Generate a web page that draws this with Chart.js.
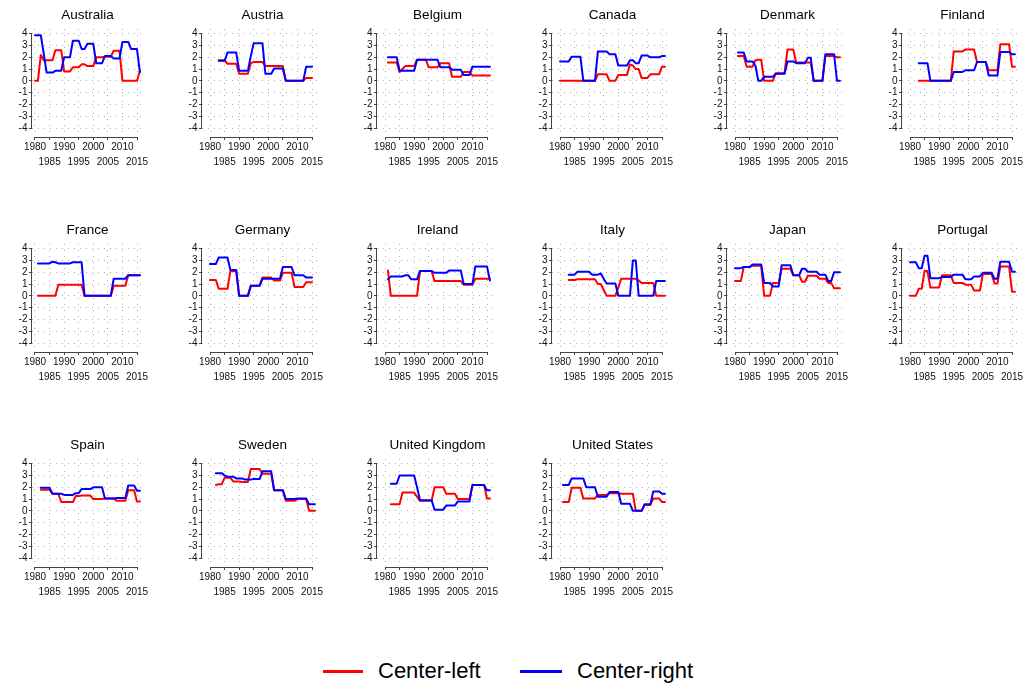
<!DOCTYPE html>
<html>
<head>
<meta charset="utf-8">
<title>Center-left and center-right positions by country</title>
<script src="https://cdn.jsdelivr.net/npm/chart.js@4.4.1/dist/chart.umd.min.js"></script>
<style>
  html, body { margin: 0; padding: 0; background: #ffffff; }
  #wrap { position: relative; width: 1025px; height: 687px; overflow: hidden; background: #ffffff; }
  #wrap canvas { position: absolute; }
  .legend-line { position: absolute; height: 2.5px; }
  .legend-text { position: absolute; font-family: "Liberation Sans", Arial, Helvetica, sans-serif;
                 font-size: 22px; line-height: 26px; color: #000; white-space: nowrap; }
</style>
</head>
<body>
<div id="wrap"></div>
<script>
// ---- data -------------------------------------------------------------
const years = [1980, 1981, 1982, 1983, 1984, 1985, 1986, 1987, 1988, 1989,
               1990, 1991, 1992, 1993, 1994, 1995, 1996, 1997, 1998, 1999,
               2000, 2001, 2002, 2003, 2004, 2005, 2006, 2007, 2008, 2009,
               2010, 2011, 2012, 2013, 2014, 2015, 2016];
const xTickValues = [1980, 1985, 1990, 1995, 2000, 2005, 2010, 2015];
const yTickValues = [-4, -3, -2, -1, 0, 1, 2, 3, 4];
const seriesLabels = ['Center-left', 'Center-right'];
const countries = ['Australia', 'Austria', 'Belgium', 'Canada', 'Denmark', 'Finland',
                   'France', 'Germany', 'Ireland', 'Italy', 'Japan', 'Portugal',
                   'Spain', 'Sweden', 'United Kingdom', 'United States'];

const australiaLeft  = [0, 0, 2.2, 1.75, 1.75, 1.75, 1.75, 2.6, 2.6, 2.6, 0.8, 0.8, 0.8, 1.15, 1.15, 1.15, 1.4, 1.4, 1.25, 1.25, 1.25, 2.0, 2.0, 2.0, 2.05, 2.05, 2.05, 2.55, 2.55, 2.55, 0, 0, 0, 0, 0, 0, 0.85];
const australiaRight = [3.87, 3.87, 3.87, 2.3, 0.7, 0.7, 0.7, 0.85, 0.85, 0.85, 2.0, 2.0, 2.0, 3.4, 3.4, 3.4, 2.7, 2.7, 3.15, 3.15, 3.15, 1.5, 1.5, 1.5, 2.1, 2.1, 2.1, 1.9, 1.9, 1.9, 3.3, 3.3, 3.3, 2.7, 2.7, 2.7, 0.75];

const austriaLeft  = [null, null, null, 1.75, 1.75, 1.75, 1.45, 1.45, 1.45, 1.45, 0.6, 0.6, 0.6, 0.6, 1.5, 1.6, 1.6, 1.6, 1.6, 1.25, 1.25, 1.25, 1.25, 1.25, 1.25, 1.25, 0, 0, 0, 0, 0, 0, 0, 0.25, 0.25, 0.25, null];
const austriaRight = [null, null, null, 1.7, 1.7, 1.7, 2.4, 2.4, 2.4, 2.4, 0.85, 0.85, 0.85, 0.85, 2.1, 3.2, 3.2, 3.2, 3.2, 0.6, 0.6, 0.6, 1.05, 1.05, 1.05, 1.05, 0, 0, 0, 0, 0, 0, 0, 1.2, 1.2, 1.2, null];

const belgiumLeft  = [null, 1.55, 1.55, 1.55, 1.55, 0.75, 1.0, 1.25, 1.25, 1.25, 1.25, 1.8, 1.8, 1.8, 1.8, 1.15, 1.15, 1.15, 1.15, 1.5, 1.5, 1.5, 1.5, 0.35, 0.35, 0.35, 0.35, 0.75, 0.75, 0.75, 0.45, 0.45, 0.45, 0.45, 0.45, 0.45, 0.45];
const belgiumRight = [null, 2.0, 2.0, 2.0, 2.0, 0.85, 0.85, 0.85, 0.85, 0.85, 0.85, 1.8, 1.8, 1.8, 1.8, 1.8, 1.8, 1.8, 1.8, 1.15, 1.15, 1.15, 1.15, 0.95, 0.95, 0.95, 0.95, 0.5, 0.5, 0.5, 1.2, 1.2, 1.2, 1.2, 1.2, 1.2, 1.2];

const canadaLeft  = [0, 0, 0, 0, 0, 0, 0, 0, 0, 0, 0, 0, 0, 0.55, 0.55, 0.55, 0.55, 0, 0, 0, 0.5, 0.5, 0.5, 0.5, 1.4, 1.3, 1.0, 1.0, 0.25, 0.25, 0.25, 0.55, 0.55, 0.55, 0.55, 1.2, 1.2];
const canadaRight = [1.65, 1.65, 1.65, 1.65, 2.05, 2.05, 2.05, 2.05, 0, 0, 0, 0, 0, 2.5, 2.5, 2.5, 2.5, 2.25, 2.25, 2.25, 1.3, 1.3, 1.3, 1.3, 1.75, 1.75, 1.5, 1.5, 2.15, 2.15, 2.15, 2.0, 2.0, 2.0, 2.0, 2.1, 2.1];

const denmarkLeft  = [null, 2.1, 2.1, 2.1, 1.2, 1.2, 1.2, 1.75, 1.8, 1.8, 0, 0, 0, 0, 0.65, 0.65, 0.65, 0.65, 2.65, 2.65, 2.65, 1.55, 1.55, 1.55, 1.55, 1.55, 1.55, 0, 0, 0, 0, 2.1, 2.1, 2.1, 2.1, 2.0, 2.0];
const denmarkRight = [null, 2.4, 2.4, 2.4, 1.65, 1.65, 1.65, 1.3, 0, 0, 0.35, 0.35, 0.35, 0.35, 0.6, 0.6, 0.6, 0.6, 1.65, 1.65, 1.65, 1.5, 1.5, 1.5, 1.5, 1.95, 1.95, 0, 0, 0, 0, 2.25, 2.25, 2.25, 2.25, 0, 0];

const finlandLeft  = [null, null, null, 0, 0, 0, 0, 0, 0, 0, 0, 0, 0, 0, 0, 2.5, 2.5, 2.5, 2.5, 2.65, 2.65, 2.65, 2.65, 1.6, 1.6, 1.6, 1.6, 0.9, 0.9, 0.9, 0.9, 3.1, 3.1, 3.1, 3.1, 1.2, 1.2];
const finlandRight = [null, null, null, 1.5, 1.5, 1.5, 1.5, 0, 0, 0, 0, 0, 0, 0, 0, 0.75, 0.75, 0.75, 0.75, 0.9, 0.9, 0.9, 0.9, 1.6, 1.6, 1.6, 1.6, 0.45, 0.45, 0.45, 0.45, 2.45, 2.45, 2.45, 2.45, 2.25, 2.25];

const franceLeft  = [null, 0, 0, 0, 0, 0, 0, 0, 0.95, 0.95, 0.95, 0.95, 0.95, 0.95, 0.95, 0.95, 0.95, 0, 0, 0, 0, 0, 0, 0, 0, 0, 0, 0.85, 0.85, 0.85, 0.85, 0.85, 1.75, 1.75, 1.75, 1.75, 1.75];
const franceRight = [null, 2.75, 2.75, 2.75, 2.75, 2.75, 2.9, 2.85, 2.75, 2.75, 2.75, 2.75, 2.75, 2.85, 2.85, 2.85, 2.85, 0, 0, 0, 0, 0, 0, 0, 0, 0, 0, 1.45, 1.45, 1.45, 1.45, 1.45, 1.75, 1.75, 1.75, 1.75, 1.75];

const germanyLeft  = [1.35, 1.35, 1.35, 0.6, 0.6, 0.6, 0.6, 2.1, 2.1, 2.1, 0, 0, 0, 0, 0.85, 0.85, 0.85, 0.85, 1.55, 1.55, 1.55, 1.55, 1.3, 1.3, 1.3, 1.95, 1.95, 1.95, 1.95, 0.75, 0.75, 0.75, 0.75, 1.15, 1.15, 1.15, null];
const germanyRight = [2.7, 2.7, 2.7, 3.25, 3.25, 3.25, 3.25, 2.2, 2.2, 2.2, 0, 0, 0, 0, 0.85, 0.85, 0.85, 0.85, 1.45, 1.45, 1.45, 1.45, 1.45, 1.45, 1.45, 2.45, 2.45, 2.45, 2.45, 1.75, 1.75, 1.75, 1.75, 1.55, 1.55, 1.55, null];

const irelandLeft  = [null, 2.15, 0, 0, 0, 0, 0, 0, 0, 0, 0, 0, 2.1, 2.1, 2.1, 2.1, 2.1, 1.25, 1.25, 1.25, 1.25, 1.25, 1.25, 1.25, 1.25, 1.25, 1.25, 0.95, 0.95, 0.95, 0.95, 1.45, 1.45, 1.45, 1.45, 1.45, 1.45];
const irelandRight = [null, 1.4, 1.65, 1.65, 1.65, 1.65, 1.65, 1.75, 1.75, 1.4, 1.4, 1.4, 2.1, 2.1, 2.1, 2.1, 2.1, 1.95, 1.95, 1.95, 1.95, 1.95, 2.15, 2.15, 2.15, 2.15, 2.15, 1.0, 1.0, 1.0, 1.0, 2.5, 2.5, 2.5, 2.5, 2.5, 1.3];

const italyLeft  = [null, null, null, 1.35, 1.35, 1.35, 1.4, 1.4, 1.4, 1.4, 1.4, 1.4, 1.4, 1.0, 1.0, 0.5, 0, 0, 0, 0, 0.7, 1.45, 1.45, 1.45, 1.45, 1.45, 1.45, 1.3, 1.1, 1.1, 1.1, 1.1, 1.1, 0, 0, 0, 0];
const italyRight = [null, null, null, 1.8, 1.8, 1.8, 2.05, 2.05, 2.05, 2.05, 2.05, 1.8, 1.8, 1.8, 1.9, 1.45, 1.05, 1.05, 1.05, 1.05, 0, 0, 0, 0, 0, 3.0, 3.0, 0, 0, 0, 0, 0, 0, 1.25, 1.25, 1.25, 1.25];

const japanLeft  = [1.25, 1.25, 1.25, 2.45, 2.45, 2.45, 2.55, 2.55, 2.55, 2.55, 0, 0, 0, 1.1, 1.1, 1.1, 2.3, 2.3, 2.3, 2.3, 1.75, 1.75, 1.75, 1.2, 1.2, 1.7, 1.7, 1.7, 1.7, 1.45, 1.45, 1.45, 1.1, 1.1, 0.65, 0.65, 0.65];
const japanRight = [2.35, 2.35, 2.35, 2.45, 2.45, 2.45, 2.65, 2.65, 2.65, 2.65, 1.1, 1.1, 1.1, 0.8, 0.8, 0.8, 2.6, 2.6, 2.6, 2.6, 1.75, 1.75, 1.75, 2.3, 2.3, 2.05, 2.05, 2.05, 2.05, 1.8, 1.8, 1.8, 1.25, 1.25, 2.0, 2.0, 2.0];

const portugalLeft  = [0, 0, 0, 0.6, 0.6, 2.1, 2.1, 0.7, 0.7, 0.7, 0.7, 1.75, 1.75, 1.75, 1.75, 1.1, 1.1, 1.1, 1.1, 0.95, 0.95, 0.95, 0.45, 0.45, 0.45, 1.85, 1.85, 1.85, 1.85, 1.05, 1.05, 2.5, 2.5, 2.5, 2.5, 0.35, 0.35];
const portugalRight = [2.85, 2.85, 2.85, 2.35, 2.35, 3.4, 3.4, 1.5, 1.5, 1.5, 1.5, 1.6, 1.6, 1.6, 1.6, 1.8, 1.8, 1.8, 1.8, 1.4, 1.4, 1.4, 1.65, 1.65, 1.65, 1.95, 1.95, 1.95, 1.95, 1.45, 1.45, 2.9, 2.9, 2.9, 2.9, 2.05, 2.05];

const spainLeft  = [null, null, 1.8, 1.8, 1.8, 1.8, 1.45, 1.45, 1.45, 0.75, 0.75, 0.75, 0.75, 0.75, 1.25, 1.25, 1.3, 1.3, 1.3, 1.3, 1.0, 1.0, 1.0, 1.0, 1.05, 1.05, 1.05, 1.05, 0.85, 0.85, 0.85, 0.85, 1.75, 1.75, 1.75, 0.8, 0.8];
const spainRight = [null, null, 1.95, 1.95, 1.95, 1.95, 1.45, 1.45, 1.45, 1.45, 1.35, 1.35, 1.35, 1.35, 1.5, 1.5, 1.85, 1.85, 1.85, 1.85, 2.0, 2.0, 2.0, 2.0, 1.05, 1.05, 1.05, 1.05, 1.1, 1.1, 1.1, 1.1, 2.15, 2.15, 2.15, 1.7, 1.7];

const swedenLeft  = [null, null, 2.2, 2.25, 2.25, 2.8, 2.8, 2.8, 2.5, 2.5, 2.5, 2.45, 2.45, 2.45, 3.55, 3.55, 3.55, 3.55, 3.15, 3.15, 3.15, 3.15, 1.75, 1.75, 1.75, 1.75, 0.85, 0.85, 0.85, 0.85, 1.0, 1.0, 1.0, 1.0, 0, 0, 0];
const swedenRight = [null, null, 3.2, 3.2, 3.2, 3.0, 2.9, 2.9, 2.9, 2.75, 2.75, 2.75, 2.65, 2.65, 2.65, 2.7, 2.7, 2.7, 3.35, 3.35, 3.35, 3.35, 1.75, 1.75, 1.75, 1.75, 1.0, 1.0, 1.0, 1.0, 1.05, 1.05, 1.05, 1.05, 0.55, 0.55, 0.55];

const ukLeft  = [null, null, 0.55, 0.55, 0.55, 0.55, 1.55, 1.55, 1.55, 1.55, 1.55, 1.2, 0.85, 0.85, 0.85, 0.85, 0.85, 2.0, 2.0, 2.0, 2.0, 1.45, 1.45, 1.45, 1.45, 1.0, 1.0, 1.0, 1.0, 1.0, 2.2, 2.2, 2.2, 2.2, 2.2, 1.05, 1.05];
const ukRight = [null, null, 2.3, 2.3, 2.3, 3.0, 3.0, 3.0, 3.0, 3.0, 3.0, 2.0, 0.9, 0.9, 0.9, 0.9, 0.9, 0.1, 0.1, 0.1, 0.1, 0.45, 0.45, 0.45, 0.45, 0.8, 0.8, 0.8, 0.8, 0.8, 2.2, 2.2, 2.2, 2.2, 2.2, 1.75, 1.75];

const usLeft  = [null, 0.75, 0.75, 0.75, 1.95, 1.95, 1.95, 1.95, 1.05, 1.05, 1.05, 1.05, 1.05, 1.35, 1.35, 1.35, 1.35, 1.5, 1.5, 1.5, 1.5, 1.45, 1.45, 1.45, 1.45, 1.45, 0, 0, 0, 0.5, 0.5, 0.5, 1.05, 1.05, 1.05, 0.75, 0.75];
const usRight = [null, 2.2, 2.2, 2.2, 2.75, 2.75, 2.75, 2.75, 2.75, 2.0, 2.0, 2.0, 2.0, 1.2, 1.2, 1.2, 1.2, 1.6, 1.6, 1.6, 1.6, 0.6, 0.6, 0.6, 0.6, 0, 0, 0, 0, 0.55, 0.55, 0.55, 1.65, 1.65, 1.65, 1.45, 1.45];

const leftSeries  = [australiaLeft, austriaLeft, belgiumLeft, canadaLeft, denmarkLeft, finlandLeft,
                     franceLeft, germanyLeft, irelandLeft, italyLeft, japanLeft, portugalLeft,
                     spainLeft, swedenLeft, ukLeft, usLeft];
const rightSeries = [australiaRight, austriaRight, belgiumRight, canadaRight, denmarkRight, finlandRight,
                     franceRight, germanyRight, irelandRight, italyRight, japanRight, portugalRight,
                     spainRight, swedenRight, ukRight, usRight];

// ---- styling & layout ------------------------------------------------
const FONT = '"Liberation Sans", Arial, Helvetica, sans-serif';
const RED = '#ff0000';
const BLUE = '#0000ff';
const GRID_COLOR = '#b0b0b0';
const AXIS_COLOR = '#444444';
const TICK_FONT_SIZE = 10;

const COLS = 6;
const PANEL_W = 175;      // horizontal step between panels
const PANEL_H = 200;      // canvas height of one panel
const ROW_STEP = 215;     // vertical step between panel rows
const TICK_FIRST_PX = 35; // local x of the first year tick
const TICK_LAST_PX = 137; // local x of the last year tick
const PLOT_RIGHT = 143;   // local right edge of the plotting region
const PLOT_TOP = 29;      // local top of the plotting region
const PLOT_BOTTOM = 137;  // local bottom (x axis line)
const Y_TOP_TICK_PX = 33.7;
const Y_BOTTOM_TICK_PX = 128;

Chart.defaults.font.family = FONT;

// Axis lines that run only from the first to the last tick.
const rangeAxes = {
  id: 'rangeAxes',
  afterDraw(chart) {
    const { ctx, chartArea, scales } = chart;
    const x = scales.x, y = scales.y;
    const yb = Math.round(chartArea.bottom) + 0.5;
    const xl = Math.round(chartArea.left) - 0.5;
    ctx.save();
    ctx.strokeStyle = AXIS_COLOR;
    ctx.lineWidth = 1;
    ctx.beginPath();
    ctx.moveTo(x.getPixelForValue(xTickValues[0]), yb);
    ctx.lineTo(x.getPixelForValue(xTickValues[xTickValues.length - 1]), yb);
    ctx.moveTo(xl, y.getPixelForValue(yTickValues[yTickValues.length - 1]));
    ctx.lineTo(xl, y.getPixelForValue(yTickValues[0]));
    ctx.stroke();
    ctx.restore();
  }
};

const wrap = document.getElementById('wrap');
const pxPerYear = (TICK_LAST_PX - TICK_FIRST_PX) / (xTickValues[xTickValues.length - 1] - xTickValues[0]);
const pxPerUnit = (Y_BOTTOM_TICK_PX - Y_TOP_TICK_PX) /
                  (yTickValues[yTickValues.length - 1] - yTickValues[0]);
const yMax = yTickValues[yTickValues.length - 1] + (Y_TOP_TICK_PX - PLOT_TOP) / pxPerUnit;
const yMin = yTickValues[0] - (PLOT_BOTTOM - Y_BOTTOM_TICK_PX) / pxPerUnit;

countries.forEach((name, i) => {
  const col = i % COLS;
  const row = Math.floor(i / COLS);
  const canvas = document.createElement('canvas');
  canvas.width = PANEL_W;
  canvas.height = PANEL_H;
  canvas.style.left = (col * PANEL_W) + 'px';
  canvas.style.top = (row * ROW_STEP) + 'px';
  canvas.style.width = PANEL_W + 'px';
  canvas.style.height = PANEL_H + 'px';
  wrap.appendChild(canvas);

  const axisLeft = col === 0 ? 32 : 27;
  const xMin = xTickValues[0] - (TICK_FIRST_PX - axisLeft) / pxPerYear;
  const xMax = xTickValues[xTickValues.length - 1] + (PLOT_RIGHT - TICK_LAST_PX) / pxPerYear;

  const toPoints = arr => years.map((yr, k) => ({ x: yr, y: arr[k] }));

  new Chart(canvas, {
    type: 'line',
    data: {
      datasets: [
        { label: seriesLabels[1], data: toPoints(rightSeries[i]), borderColor: BLUE, xAxisID: 'x', yAxisID: 'y' },
        { label: seriesLabels[0], data: toPoints(leftSeries[i]), borderColor: RED, xAxisID: 'x', yAxisID: 'y' }
      ]
    },
    options: {
      responsive: false,
      animation: false,
      devicePixelRatio: 1,
      layout: { padding: 0 },
      elements: {
        point: { radius: 0, hoverRadius: 0 },
        line: { tension: 0, borderWidth: 2, borderCapStyle: 'round', borderJoinStyle: 'round', fill: false }
      },
      plugins: {
        legend: { display: false },
        tooltip: { enabled: false },
        title: {
          display: true,
          text: name,
          color: '#000000',
          font: { family: FONT, size: 13.5, weight: 'normal', lineHeight: 1.2 },
          padding: { top: 7, bottom: PLOT_TOP - 7 - 13.5 * 1.2 }
        }
      },
      scales: {
        x: {
          type: 'linear',
          min: xMin,
          max: xMax,
          afterBuildTicks: s => { s.ticks = xTickValues.map(v => ({ value: v })); },
          afterFit: s => { s.height = PANEL_H - PLOT_BOTTOM; },
          ticks: {
            autoSkip: false,
            maxRotation: 0,
            minRotation: 0,
            padding: 0,
            color: '#111111',
            font: { family: FONT, size: TICK_FONT_SIZE, lineHeight: '15px' },
            callback: v => (v % 10 === 0 ? [String(v)] : ['', String(v)])
          },
          grid: { color: GRID_COLOR, lineWidth: 1, tickLength: 3, tickColor: AXIS_COLOR, tickWidth: 1 },
          border: { display: false, dash: [1, 5] }
        },
        y: {
          position: 'left',
          min: yMin,
          max: yMax,
          afterBuildTicks: s => { s.ticks = yTickValues.map(v => ({ value: v })); },
          afterFit: s => { s.width = axisLeft; },
          ticks: {
            autoSkip: false,
            padding: 1.5,
            color: '#111111',
            font: { family: FONT, size: TICK_FONT_SIZE },
            callback: v => String(v)
          },
          grid: { color: GRID_COLOR, lineWidth: 1, tickLength: 3, tickColor: AXIS_COLOR, tickWidth: 1 },
          border: { display: false, dash: [1, 5] }
        },
        // empty right-hand margin scale, keeps the plotting region narrower than the panel
        margin: {
          axis: 'y',
          position: 'right',
          min: yMin,
          max: yMax,
          afterFit: s => { s.width = PANEL_W - PLOT_RIGHT; },
          ticks: { display: false },
          grid: { display: false, drawTicks: false, drawOnChartArea: false },
          border: { display: false }
        }
      }
    },
    plugins: [rangeAxes]
  });
});

// ---- legend ------------------------------------------------------------
const legendItems = [
  { label: seriesLabels[0], color: RED,  lineLeft: 323, lineWidth: 40, textLeft: 378 },
  { label: seriesLabels[1], color: BLUE, lineLeft: 520, lineWidth: 42, textLeft: 577 }
];
legendItems.forEach(item => {
  const line = document.createElement('div');
  line.className = 'legend-line';
  line.style.left = item.lineLeft + 'px';
  line.style.top = '670px';
  line.style.width = item.lineWidth + 'px';
  line.style.background = item.color;
  wrap.appendChild(line);
  const text = document.createElement('div');
  text.className = 'legend-text';
  text.style.left = item.textLeft + 'px';
  text.style.top = '658px';
  text.textContent = item.label;
  wrap.appendChild(text);
});
</script>
</body>
</html>
